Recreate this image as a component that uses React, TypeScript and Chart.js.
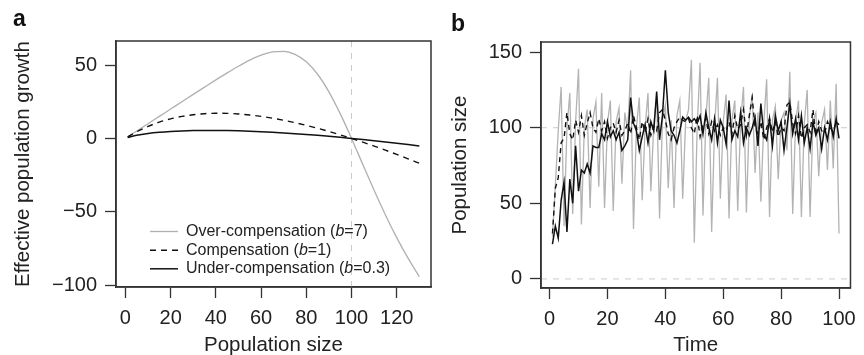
import React, { useEffect, useRef } from "react";
import { Chart, registerables } from "chart.js";

Chart.register(...registerables);

// ---------- Panel a data ----------
const popSize = [1, 5, 10, 15, 20, 25, 30, 35, 40, 45, 50, 55, 60, 65, 70, 75, 80, 85, 90, 95, 100, 105, 110, 115, 120, 125, 130];
const overComp = [1.0, 5.0, 10.0, 15.0, 20.0, 25.0, 30.0, 34.96, 39.87, 44.67, 49.22, 53.35, 56.73, 58.93, 59.35, 57.34, 52.26, 43.73, 31.76, 16.87, 0, -17.76, -35.39, -52.16, -67.63, -81.66, -94.26];
const compensation = [0.98, 4.52, 8.18, 11.09, 13.33, 15.0, 16.15, 16.85, 17.14, 17.07, 16.67, 15.97, 15.0, 13.79, 12.35, 10.71, 8.89, 6.89, 4.74, 2.44, 0, -2.56, -5.24, -8.02, -10.91, -13.89, -16.96];
const underComp = [0.6, 2.11, 3.32, 4.16, 4.74, 5.12, 5.36, 5.47, 5.46, 5.36, 5.18, 4.92, 4.59, 4.19, 3.74, 3.23, 2.68, 2.07, 1.42, 0.73, 0, -0.77, -1.57, -2.41, -3.28, -4.18, -5.11];
const xTicksA = [0, 20, 40, 60, 80, 100, 120];
const yTicksA = [-100, -50, 0, 50];
const yTickLabelsA = ["\u2212100", "\u221250", "0", "50"];
const legendLabels = [
  ["Over-compensation (", "b", "=7)"],
  ["Compensation (", "b", "=1)"],
  ["Under-compensation (", "b", "=0.3)"],
];

// ---------- Panel b data ----------
const time = Array.from({ length: 100 }, (_, i) => i + 1);
const seriesOver = [
  28, 62, 98, 127, 35, 100, 123, 43, 104, 139,
  36, 100, 112, 47, 106, 117, 61, 123, 47, 103,
  118, 45, 104, 113, 63, 110, 98, 138, 33, 100,
  120, 52, 100, 123, 58, 102, 121, 40, 105, 115,
  60, 105, 47, 108, 118, 53, 104, 112, 145, 24,
  100, 143, 42, 106, 133, 31, 100, 133, 53, 104,
  122, 40, 105, 118, 45, 104, 127, 44, 106, 122,
  70, 110, 51, 103, 132, 41, 105, 114, 66, 105,
  110, 85, 137, 43, 104, 118, 41, 103, 125, 41,
  104, 110, 68, 103, 112, 72, 118, 73, 129, 30,
];
const seriesComp = [
  30, 60, 67, 90, 93, 110, 96, 92, 105, 97,
  108, 95, 103, 110, 100, 97, 106, 98, 104, 93,
  100, 103, 97, 105, 95, 98, 103, 96, 108, 100,
  92, 104, 97, 106, 95, 101, 98, 110, 112, 105,
  96, 92, 100, 104, 107, 105, 104, 106, 100, 96,
  108, 94, 102, 106, 96, 104, 98, 102, 95, 100,
  98, 104, 96, 108, 99, 102, 112, 95, 108, 120,
  100, 96, 104, 92, 100, 106, 97, 104, 94, 100,
  98, 115, 117, 103, 96, 108, 93, 100, 102, 97,
  112, 95, 104, 98, 96, 104, 100, 97, 104, 102,
];
const seriesUnder = [
  23, 35, 27, 52, 64, 31, 66, 50, 88, 58,
  72, 70, 76, 70, 88, 87, 87, 96, 92, 104,
  94, 98, 92, 97, 85, 88, 92, 120, 103, 98,
  85, 94, 102, 90, 104, 98, 124, 92, 108, 138,
  110, 98, 95, 90, 98, 107, 105, 107, 104, 106,
  103, 108, 96, 110, 100, 92, 106, 90, 105, 100,
  89, 118, 92, 98, 94, 110, 90, 100, 95, 100,
  107, 88, 116, 96, 92, 106, 88, 108, 98, 104,
  85, 100, 116, 96, 106, 92, 108, 90, 100, 86,
  104, 95, 100, 86, 100, 92, 104, 94, 106, 93,
];
const xTicksB = [0, 20, 40, 60, 80, 100];
const yTicksB = [0, 50, 100, 150];

const FONT = "'Liberation Sans', Arial, Helvetica, sans-serif";
const TEXT = "#222";
const AXIS = "#333";

const framePlugin = {
  id: "frame",
  beforeDatasetsDraw(chart: any, _a: any, opts: any) {
    const { ctx, chartArea: a, scales } = chart;
    ctx.save();
    ctx.strokeStyle = "#cccccc";
    ctx.lineWidth = 1;
    ctx.setLineDash([6, 6]);
    (opts.vlines || []).forEach((v: number) => {
      const x = scales.x.getPixelForValue(v);
      ctx.beginPath();
      ctx.moveTo(x, a.top);
      ctx.lineTo(x, a.bottom);
      ctx.stroke();
    });
    (opts.hlines || []).forEach((v: number) => {
      const y = scales.y.getPixelForValue(v);
      ctx.beginPath();
      ctx.moveTo(a.left, y);
      ctx.lineTo(a.right, y);
      ctx.stroke();
    });
    ctx.restore();
  },
  afterDraw(chart: any, _a: any, opts: any) {
    const { ctx, chartArea: a } = chart;
    ctx.save();
    ctx.strokeStyle = AXIS;
    ctx.lineWidth = 1.5;
    ctx.setLineDash([]);
    ctx.strokeRect(a.left, a.top, a.right - a.left, a.bottom - a.top);
    if (opts.legend) {
      const rows = [-55.5, -36.8, -18.2];
      opts.legend.forEach((parts: string[], i: number) => {
        const ds = chart.data.datasets[i];
        const y = a.bottom + rows[i];
        ctx.save();
        ctx.strokeStyle = ds.borderColor;
        ctx.lineWidth = ds.borderWidth;
        ctx.setLineDash(ds.borderDash || []);
        ctx.beginPath();
        ctx.moveTo(a.left + 34, y);
        ctx.lineTo(a.left + 62, y);
        ctx.stroke();
        ctx.restore();
        let x = a.left + 70;
        ctx.fillStyle = TEXT;
        ctx.textBaseline = "middle";
        ctx.textAlign = "left";
        parts.forEach((p, j) => {
          ctx.font = (j === 1 ? "italic " : "") + "16px " + FONT;
          ctx.fillText(p, x, y);
          x += ctx.measureText(p).width;
        });
      });
    }
    ctx.restore();
  },
};

function axisCommon(ticks: number[], labels: string[] | null, fit: (s: any) => void, title: string, titlePad: any) {
  return {
    type: "linear",
    afterBuildTicks: (s: any) => {
      s.ticks = ticks.map((v) => ({ value: v }));
    },
    afterFit: fit,
    grid: { display: true, drawOnChartArea: false, drawTicks: true, tickLength: 11, tickColor: AXIS, tickWidth: 1.3 },
    border: { display: true, color: AXIS, width: 1.5 },
    ticks: {
      font: { family: FONT, size: 20 },
      color: TEXT,
      padding: 8,
      maxRotation: 0,
      autoSkip: false,
      callback: (v: number) => {
        if (labels) {
          const k = ticks.indexOf(v);
          return k >= 0 ? labels[k] : "";
        }
        return String(v);
      },
    },
    title: { display: true, text: title, font: { family: FONT, size: 20.5, lineHeight: 1.2 }, color: TEXT, padding: titlePad },
  };
}

function PanelA() {
  const ref = useRef<HTMLCanvasElement>(null);
  useEffect(() => {
    const chart = new Chart(ref.current as HTMLCanvasElement, {
      type: "line",
      data: {
        datasets: [
          { label: "Over-compensation (b=7)", data: popSize.map((x, i) => ({ x, y: overComp[i] })), borderColor: "#b0b0b0", borderWidth: 1.3, pointRadius: 0, cubicInterpolationMode: "monotone", order: 3 },
          { label: "Compensation (b=1)", data: popSize.map((x, i) => ({ x, y: compensation[i] })), borderColor: "#111", borderWidth: 1.4, borderDash: [6, 5], pointRadius: 0, cubicInterpolationMode: "monotone", order: 2 },
          { label: "Under-compensation (b=0.3)", data: popSize.map((x, i) => ({ x, y: underComp[i] })), borderColor: "#111", borderWidth: 1.5, pointRadius: 0, cubicInterpolationMode: "monotone", order: 1 },
        ],
      } as any,
      options: {
        responsive: false,
        animation: false,
        events: [],
        layout: { padding: { left: 0, right: 5, top: 41, bottom: 0 } },
        plugins: { legend: { display: false }, tooltip: { enabled: false }, frame: { vlines: [100], legend: legendLabels } } as any,
        scales: {
          x: { ...axisCommon(xTicksA, null, (s: any) => { s.height = 68; }, "Population size", { top: 0, bottom: -3 }), min: -4.16, max: 135.16 },
          y: { ...axisCommon(yTicksA, yTickLabelsA, (s: any) => { s.width = 116; }, "Effective population growth", { top: 11, bottom: 0 }), min: -101.3, max: 66.4 },
        } as any,
      },
      plugins: [framePlugin],
    });
    return () => chart.destroy();
  }, []);
  return <canvas ref={ref} width={436} height={355} style={{ position: "absolute", left: 0, top: 0 }} />;
}

function PanelB() {
  const ref = useRef<HTMLCanvasElement>(null);
  useEffect(() => {
    const chart = new Chart(ref.current as HTMLCanvasElement, {
      type: "line",
      data: {
        datasets: [
          { label: "Over-compensation", data: time.map((x, i) => ({ x, y: seriesOver[i] })), borderColor: "#b3b3b3", borderWidth: 1.3, pointRadius: 0, tension: 0, order: 3 },
          { label: "Compensation", data: time.map((x, i) => ({ x, y: seriesComp[i] })), borderColor: "#111", borderWidth: 1.4, borderDash: [5, 4], pointRadius: 0, tension: 0, order: 2 },
          { label: "Under-compensation", data: time.map((x, i) => ({ x, y: seriesUnder[i] })), borderColor: "#111", borderWidth: 1.5, pointRadius: 0, tension: 0, order: 1 },
        ],
      } as any,
      options: {
        responsive: false,
        animation: false,
        events: [],
        layout: { padding: { left: 0, right: 8, top: 42, bottom: 0 } },
        plugins: { legend: { display: false }, tooltip: { enabled: false }, frame: { hlines: [0, 100] } } as any,
        scales: {
          x: { ...axisCommon(xTicksB, null, (s: any) => { s.height = 67; }, "Time", { top: 0, bottom: -3 }), min: -2.96, max: 103.96 },
          y: { ...axisCommon(yTicksB, null, (s: any) => { s.width = 105; }, "Population size", { top: 12, bottom: 0 }), min: -6, max: 156.7 },
        } as any,
      },
      plugins: [framePlugin],
    });
    return () => chart.destroy();
  }, []);
  return <canvas ref={ref} width={428} height={355} style={{ position: "absolute", left: 436, top: 0 }} />;
}

export default function App() {
  const lbl: React.CSSProperties = { position: "absolute", fontFamily: FONT, fontWeight: "bold", fontSize: 23, lineHeight: "23px", color: "#111" };
  return (
    <div style={{ position: "fixed", left: 0, top: 0, width: 864, height: 355, background: "#fff", overflow: "hidden" }}>
      <PanelA />
      <PanelB />
      <div style={{ ...lbl, left: 13, top: 7 }}>a</div>
      <div style={{ ...lbl, left: 451, top: 12 }}>b</div>
    </div>
  );
}
